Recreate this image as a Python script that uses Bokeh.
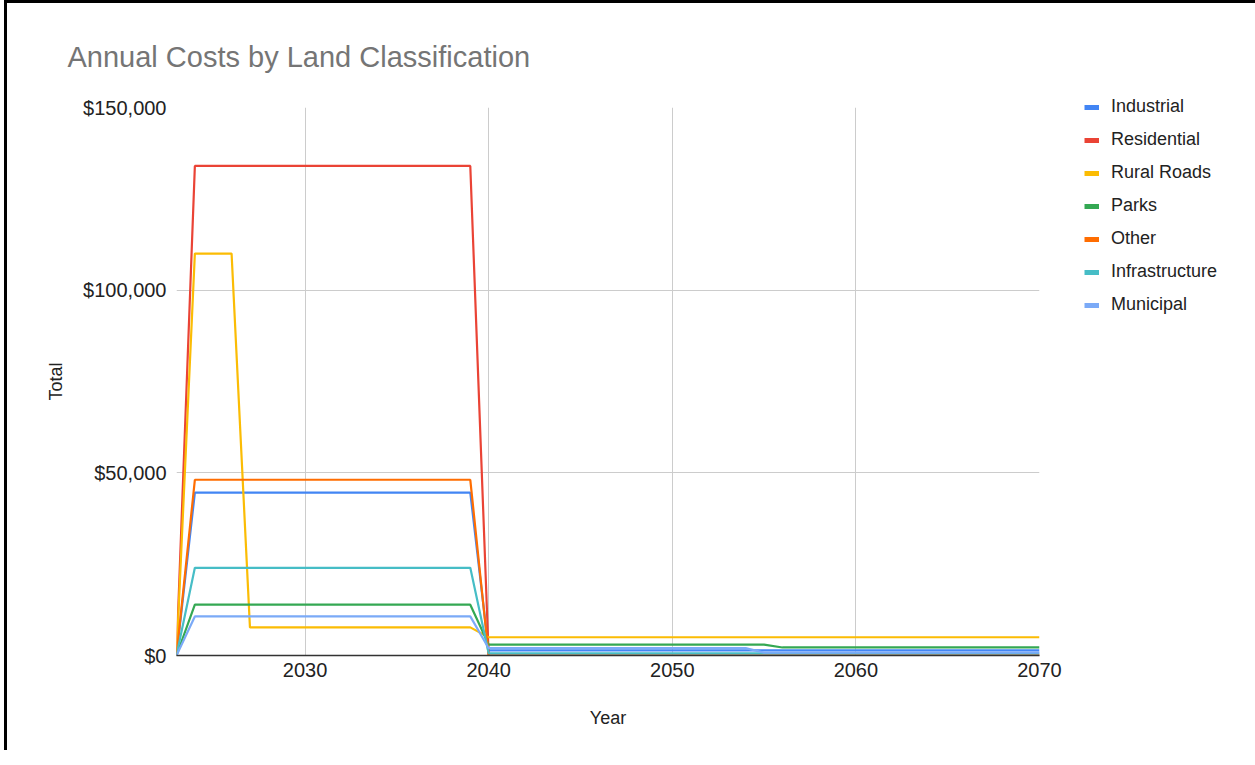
from bokeh.plotting import figure
from bokeh.models import (Range1d, NumeralTickFormatter, FixedTicker, Legend, LegendItem)
from bokeh.embed import file_html
from bokeh.resources import INLINE

FONT = "Liberation Sans"

years = list(range(2023, 2071))

# values per year 2023..2070 (48 values each)
industrial = [0,
    44600, 44600, 44600, 44600, 44600, 44600, 44600, 44600,
    44600, 44600, 44600, 44600, 44600, 44600, 44600, 44600,
    1400, 1400, 1400, 1400, 1400, 1400, 1400, 1400, 1400, 1400,
    1400, 1400, 1400, 1400, 1400, 1400, 1400, 1400, 1400, 1400,
    1400, 1400, 1400, 1400, 1400, 1400, 1400, 1400, 1400, 1400, 1400]
residential = [0,
    134000, 134000, 134000, 134000, 134000, 134000, 134000, 134000,
    134000, 134000, 134000, 134000, 134000, 134000, 134000, 134000,
    0, 0, 0, 0, 0, 0, 0, 0, 0, 0,
    0, 0, 0, 0, 0, 0, 0, 0, 0, 0,
    0, 0, 0, 0, 0, 0, 0, 0, 0, 0, 0]
rural_roads = [0,
    110000, 110000, 110000, 7700, 7700, 7700, 7700, 7700,
    7700, 7700, 7700, 7700, 7700, 7700, 7700, 7700,
    5000, 5000, 5000, 5000, 5000, 5000, 5000, 5000, 5000, 5000,
    5000, 5000, 5000, 5000, 5000, 5000, 5000, 5000, 5000, 5000,
    5000, 5000, 5000, 5000, 5000, 5000, 5000, 5000, 5000, 5000, 5000]
parks = [0,
    13900, 13900, 13900, 13900, 13900, 13900, 13900, 13900,
    13900, 13900, 13900, 13900, 13900, 13900, 13900, 13900,
    3000, 3000, 3000, 3000, 3000, 3000, 3000, 3000, 3000, 3000,
    3000, 3000, 3000, 3000, 3000, 3000, 2200, 2200, 2200, 2200,
    2200, 2200, 2200, 2200, 2200, 2200, 2200, 2200, 2200, 2200, 2200]
other = [0,
    48100, 48100, 48100, 48100, 48100, 48100, 48100, 48100,
    48100, 48100, 48100, 48100, 48100, 48100, 48100, 48100,
    0, 0, 0, 0, 0, 0, 0, 0, 0, 0,
    0, 0, 0, 0, 0, 0, 0, 0, 0, 0,
    0, 0, 0, 0, 0, 0, 0, 0, 0, 0, 0]
infrastructure = [0,
    24000, 24000, 24000, 24000, 24000, 24000, 24000, 24000,
    24000, 24000, 24000, 24000, 24000, 24000, 24000, 24000,
    600, 600, 600, 600, 600, 600, 600, 600, 600, 600,
    600, 600, 600, 600, 600, 600, 600, 600, 600, 600,
    600, 600, 600, 600, 600, 600, 600, 600, 600, 600, 600]
municipal = [0,
    10700, 10700, 10700, 10700, 10700, 10700, 10700, 10700,
    10700, 10700, 10700, 10700, 10700, 10700, 10700, 10700,
    2000, 2000, 2000, 2000, 2000, 2000, 2000, 2000, 2000, 2000,
    2000, 2000, 2000, 2000, 2000, 800, 800, 800, 800, 800,
    800, 800, 800, 800, 800, 800, 800, 800, 800, 800, 800]

series_names = ["Industrial", "Residential", "Rural Roads", "Parks", "Other", "Infrastructure", "Municipal"]
series_values = [industrial, residential, rural_roads, parks, other, infrastructure, municipal]
series_colors = ["#4285F4", "#EA4335", "#FBBC04", "#34A853", "#FF6D01", "#46BDC6", "#7BAAF7"]

x_ticks = [2030, 2040, 2050, 2060, 2070]
y_ticks = [0, 50000, 100000, 150000]

p = figure(frame_width=863, frame_height=548,
           min_border_left=169, min_border_right=196,
           min_border_top=104, min_border_bottom=95,
           x_range=Range1d(2023, 2070), y_range=Range1d(0, 150000),
           title="Annual Costs by Land Classification",
           output_backend="svg", toolbar_location=None)
p.styles = {"border-left": "3px solid black", "border-top": "3px solid black",
            "border-right": "3px solid black", "margin-left": "4px", "margin-top": "0px"}
p.outline_line_color = None
p.background_fill_color = "white"
p.border_fill_color = "white"

p.title.text_font = FONT
p.title.text_font_size = "29px"
p.title.text_color = "#757575"
p.title.text_font_style = "normal"
p.title.align = "left"
p.title.offset = -109
p.title.standoff = 70

p.xaxis.ticker = FixedTicker(ticks=x_ticks)
p.yaxis.ticker = FixedTicker(ticks=y_ticks)
p.yaxis.formatter = NumeralTickFormatter(format="$0,0")

for ax in (p.xaxis, p.yaxis):
    ax.major_tick_line_color = None
    ax.minor_tick_line_color = None
    ax.major_label_text_font = FONT
    ax.major_label_text_font_size = "20px"
    ax.major_label_text_color = "#222222"
    ax.axis_label_text_font = FONT
    ax.axis_label_text_font_size = "18px"
    ax.axis_label_text_color = "#222222"
    ax.axis_label_text_font_style = "normal"

p.xaxis.axis_line_color = "#333333"
p.xaxis.axis_line_width = 1.5
p.yaxis.axis_line_color = None
p.xaxis.axis_label = "Year"
p.yaxis.axis_label = "Total"
p.xaxis.major_label_standoff = 1
p.xaxis.axis_label_standoff = 28
p.yaxis.major_label_standoff = 4
p.yaxis.axis_label_standoff = 14

p.xgrid.ticker = FixedTicker(ticks=x_ticks)
p.ygrid.ticker = FixedTicker(ticks=y_ticks)
p.xgrid.grid_line_color = "#cccccc"
p.ygrid.grid_line_color = "#cccccc"

items = []
for name, vals, col in zip(series_names, series_values, series_colors):
    p.line(years, vals, line_color=col, line_width=2.2)
    dummy = p.line([float("nan")], [float("nan")], line_color=col, line_width=5)
    items.append(LegendItem(label=name, renderers=[dummy]))

legend = Legend(items=items, location=(45, 340))
legend.glyph_width = 15
legend.glyph_height = 20
legend.label_height = 20
legend.label_standoff = 12
legend.spacing = 12
legend.padding = 0
legend.margin = 0
legend.border_line_color = None
legend.background_fill_alpha = 0
legend.label_text_font = FONT
legend.label_text_font_size = "18px"
legend.label_text_color = "#222222"
p.add_layout(legend, "right")

open("out.html", "w").write(file_html(p, INLINE))
